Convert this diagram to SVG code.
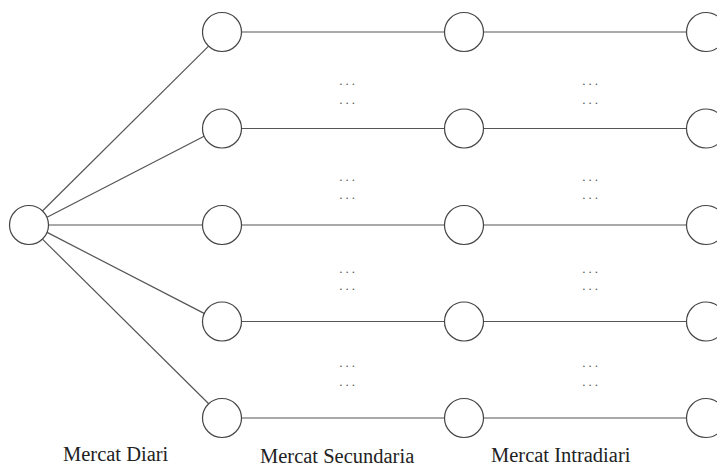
<svg xmlns="http://www.w3.org/2000/svg" width="717" height="468" viewBox="0 0 717 468">
<style>
.n{fill:#fff;stroke:#444;stroke-width:1.2}
.e{stroke:#555;stroke-width:1.2;fill:none}
.d{font-family:"Liberation Serif",serif;font-size:13px;letter-spacing:3px;fill:#555;text-anchor:middle}
.l{font-family:"Liberation Serif",serif;font-size:20.5px;fill:#222}
</style>
<rect width="717" height="468" fill="#fff"/>
<g id="connectors">
<line class="e" x1="42.4" y1="211" x2="208.6" y2="46.1"/>
<line class="e" x1="47" y1="217.3" x2="204.1" y2="136.2"/>
<line class="e" x1="48.5" y1="225" x2="202.5" y2="225"/>
<line class="e" x1="47.1" y1="232.4" x2="204.1" y2="313.4"/>
<line class="e" x1="42.4" y1="239.1" x2="208.7" y2="403.8"/>
<line class="e" x1="241.5" y1="32" x2="444.5" y2="32"/>
<line class="e" x1="483.5" y1="32" x2="686.5" y2="32"/>
<line class="e" x1="241.5" y1="128.5" x2="444.5" y2="128.5"/>
<line class="e" x1="483.5" y1="128.5" x2="686.5" y2="128.5"/>
<line class="e" x1="241.5" y1="225" x2="444.5" y2="225"/>
<line class="e" x1="483.5" y1="225" x2="686.5" y2="225"/>
<line class="e" x1="241.5" y1="321.5" x2="444.5" y2="321.5"/>
<line class="e" x1="483.5" y1="321.5" x2="686.5" y2="321.5"/>
<line class="e" x1="241.5" y1="418" x2="444.5" y2="418"/>
<line class="e" x1="483.5" y1="418" x2="686.5" y2="418"/>
</g>
<g id="root"><circle class="n" cx="29" cy="225" r="19.5"/></g>
<g id="a1"><circle class="n" cx="222" cy="32" r="19.5"/></g>
<g id="a2"><circle class="n" cx="222" cy="128.5" r="19.5"/></g>
<g id="a3"><circle class="n" cx="222" cy="225" r="19.5"/></g>
<g id="a4"><circle class="n" cx="222" cy="321.5" r="19.5"/></g>
<g id="a5"><circle class="n" cx="222" cy="418" r="19.5"/></g>
<g id="b1"><circle class="n" cx="464" cy="32" r="19.5"/></g>
<g id="b2"><circle class="n" cx="464" cy="128.5" r="19.5"/></g>
<g id="b3"><circle class="n" cx="464" cy="225" r="19.5"/></g>
<g id="b4"><circle class="n" cx="464" cy="321.5" r="19.5"/></g>
<g id="b5"><circle class="n" cx="464" cy="418" r="19.5"/></g>
<g id="c1"><circle class="n" cx="706" cy="32" r="19.5"/></g>
<g id="c2"><circle class="n" cx="706" cy="128.5" r="19.5"/></g>
<g id="c3"><circle class="n" cx="706" cy="225" r="19.5"/></g>
<g id="c4"><circle class="n" cx="706" cy="321.5" r="19.5"/></g>
<g id="c5"><circle class="n" cx="706" cy="418" r="19.5"/></g>
<g id="dots">
<text class="d" x="348.5" y="85">...</text><text class="d" x="348.5" y="104">...</text>
<text class="d" x="591.5" y="85">...</text><text class="d" x="591.5" y="104">...</text>
<text class="d" x="348.5" y="181">...</text><text class="d" x="348.5" y="199">...</text>
<text class="d" x="591.5" y="181">...</text><text class="d" x="591.5" y="199">...</text>
<text class="d" x="348.5" y="273">...</text><text class="d" x="348.5" y="290">...</text>
<text class="d" x="591.5" y="273">...</text><text class="d" x="591.5" y="290">...</text>
<text class="d" x="348.5" y="367">...</text><text class="d" x="348.5" y="386">...</text>
<text class="d" x="591.5" y="367">...</text><text class="d" x="591.5" y="386">...</text>
</g>
<g id="labels">
<text class="l" x="63" y="461">Mercat Diari</text>
<text class="l" x="260" y="463">Mercat Secundaria</text>
<text class="l" x="491" y="462">Mercat Intradiari</text>
</g>
</svg>
